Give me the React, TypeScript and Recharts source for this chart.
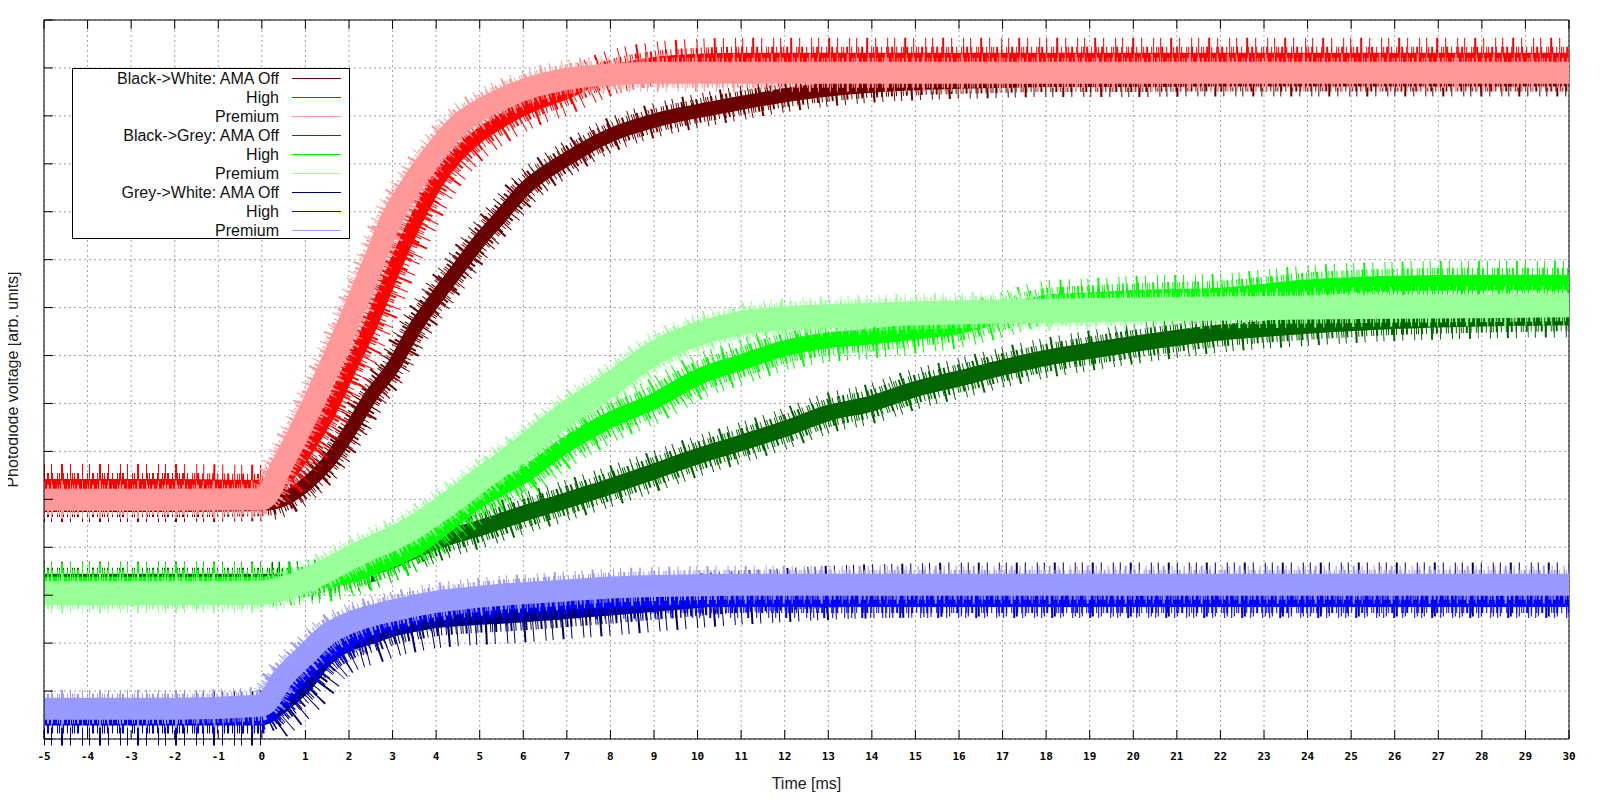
import React from "react";
import { LineChart, Line, XAxis, YAxis, CartesianGrid, Legend, ReferenceLine, Label } from "recharts";

// time axis in ms, values in arbitrary photodiode units (0..15 grid steps)
const timeMs = [-5, -2, 0, 0.5, 1, 1.5, 2, 2.5, 3, 3.5, 4, 4.5, 5, 5.5, 6, 7, 8, 9, 10, 11, 12, 13, 14, 15, 16, 17, 18, 19, 20, 22, 24, 26, 28, 30];

const bwOff = [4.88, 4.88, 4.9, 5.0, 5.3, 5.75, 6.4, 7.15, 7.75, 8.55, 9.2, 9.8, 10.4, 10.92, 11.45, 12.1, 12.6, 12.9, 13.1, 13.27, 13.43, 13.55, 13.63, 13.68, 13.71, 13.73, 13.75, 13.75, 13.75, 13.76, 13.76, 13.76, 13.76, 13.76];
const bwHigh = [5.28, 5.28, 5.26, 5.42, 6.0, 6.75, 7.7, 8.65, 9.75, 10.75, 11.6, 12.2, 12.6, 12.9, 13.15, 13.5, 13.9, 14.08, 14.15, 14.17, 14.17, 14.17, 14.17, 14.17, 14.17, 14.17, 14.17, 14.17, 14.17, 14.17, 14.17, 14.17, 14.17, 14.17];
const bwPremium = [4.99, 4.99, 5.0, 5.78, 6.67, 7.66, 8.7, 9.8, 10.9, 11.65, 12.27, 12.8, 13.12, 13.35, 13.54, 13.77, 13.86, 13.9, 13.9, 13.9, 13.9, 13.9, 13.9, 13.9, 13.9, 13.9, 13.9, 13.9, 13.9, 13.9, 13.9, 13.9, 13.9, 13.9];

const bgOff = [3.28, 3.28, 3.28, 3.28, 3.3, 3.36, 3.45, 3.57, 3.73, 3.93, 4.12, 4.27, 4.4, 4.55, 4.7, 4.98, 5.27, 5.58, 5.9, 6.18, 6.47, 6.8, 7.0, 7.3, 7.52, 7.75, 7.95, 8.1, 8.24, 8.48, 8.62, 8.72, 8.77, 8.8];
const bgHigh = [3.22, 3.22, 3.22, 3.24, 3.27, 3.32, 3.42, 3.57, 3.75, 3.97, 4.3, 4.66, 5.0, 5.25, 5.5, 6.15, 6.66, 7.05, 7.55, 7.86, 8.15, 8.32, 8.4, 8.5, 8.62, 8.85, 9.1, 9.15, 9.2, 9.25, 9.42, 9.5, 9.52, 9.52];
const bgPremium = [3.04, 3.04, 3.05, 3.15, 3.3, 3.52, 3.76, 3.98, 4.18, 4.42, 4.73, 5.05, 5.4, 5.73, 6.07, 6.8, 7.4, 8.05, 8.45, 8.68, 8.78, 8.82, 8.85, 8.88, 8.9, 8.92, 8.93, 8.95, 8.96, 8.98, 9.0, 9.02, 9.03, 9.05];

const gwOff = [0.43, 0.43, 0.43, 0.72, 1.12, 1.68, 1.98, 2.12, 2.28, 2.38, 2.46, 2.5, 2.53, 2.55, 2.58, 2.65, 2.72, 2.8, 2.88, 2.95, 3.0, 3.05, 3.08, 3.1, 3.12, 3.12, 3.12, 3.12, 3.12, 3.12, 3.12, 3.12, 3.12, 3.12];
const gwHigh = [0.45, 0.45, 0.46, 0.9, 1.4, 1.78, 2.05, 2.3, 2.45, 2.57, 2.66, 2.72, 2.76, 2.8, 2.82, 2.86, 2.88, 2.89, 2.9, 2.9, 2.9, 2.9, 2.9, 2.9, 2.9, 2.9, 2.9, 2.9, 2.9, 2.9, 2.9, 2.9, 2.9, 2.9];
const gwPremium = [0.63, 0.63, 0.7, 1.3, 1.75, 2.18, 2.42, 2.57, 2.68, 2.78, 2.86, 2.92, 2.97, 3.01, 3.04, 3.1, 3.16, 3.19, 3.21, 3.22, 3.22, 3.22, 3.22, 3.22, 3.22, 3.22, 3.22, 3.22, 3.22, 3.22, 3.22, 3.22, 3.22, 3.22];

const xTicks = [-5, -4, -3, -2, -1, 0, 1, 2, 3, 4, 5, 6, 7, 8, 9, 10, 11, 12, 13, 14, 15, 16, 17, 18, 19, 20, 21, 22, 23, 24, 25, 26, 27, 28, 29, 30];
const yTicks = [0, 1, 2, 3, 4, 5, 6, 7, 8, 9, 10, 11, 12, 13, 14, 15];

// drawing order = gnuplot plot order; core = solid band, mid/far = noise spikes
const series = [
  { key: "bwOff", label: "Black->White: AMA Off", values: bwOff, color: "#6b0000", core: 14, mid: 24, far: 34 },
  { key: "bwHigh", label: "High", values: bwHigh, color: "#ff0000", core: 14, mid: 26, far: 44 },
  { key: "bwPremium", label: "Premium", values: bwPremium, color: "#ff9999", core: 22, mid: 30, far: 38 },
  { key: "bgOff", label: "Black->Grey: AMA Off", values: bgOff, color: "#006400", core: 16, mid: 28, far: 40 },
  { key: "bgHigh", label: "High", values: bgHigh, color: "#00ff00", core: 16, mid: 30, far: 44 },
  { key: "bgPremium", label: "Premium", values: bgPremium, color: "#99ff99", core: 24, mid: 32, far: 40 },
  { key: "gwOff", label: "Grey->White: AMA Off", values: gwOff, color: "#00006b", core: 14, mid: 30, far: 54 },
  { key: "gwHigh", label: "High", values: gwHigh, color: "#0000ff", core: 14, mid: 26, far: 36 },
  { key: "gwPremium", label: "Premium", values: gwPremium, color: "#9999ff", core: 22, mid: 30, far: 38 },
];

const data = timeMs.map((t, i) => {
  const row: Record<string, number> = { t };
  series.forEach((s) => {
    row[s.key] = s.values[i];
  });
  return row;
});

const font = "'Liberation Sans', Arial, sans-serif";
const noLabel = () => "";

const LegendBox = () => (
  <div
    style={{
      width: 278,
      height: 171,
      boxSizing: "border-box",
      border: "1px solid #000",
      background: "#fff",
      fontFamily: font,
      fontSize: 16,
      color: "#111",
    }}
  >
    {series.map((s) => (
      <div key={s.key} style={{ display: "flex", alignItems: "center", height: 19 }}>
        <span style={{ width: 206, textAlign: "right", whiteSpace: "nowrap" }}>{s.label}</span>
        <span style={{ marginLeft: 13, width: 49, borderTop: `1.5px solid ${s.color}` }} />
      </div>
    ))}
  </div>
);

const YLabel = (props: any) => {
  const vb = props.viewBox || { x: 0, y: 20, width: 44, height: 719 };
  const cx = 12;
  const cy = vb.y + vb.height / 2;
  return (
    <text
      x={cx}
      y={cy}
      transform={`rotate(-90 ${cx} ${cy})`}
      textAnchor="middle"
      dominantBaseline="central"
      fontFamily={font}
      fontSize={16}
      fill="#222"
    >
      Photodiode voltage [arb. units]
    </text>
  );
};

const App: React.FC = () => {
  return (
    <div style={{ margin: -8, width: 1600, height: 800 }}>
      <LineChart width={1600} height={800} data={data} margin={{ top: 0, right: 31, bottom: 0, left: 0 }}>
        <CartesianGrid stroke="#a0a0a0" strokeDasharray="2 3" />
        <XAxis
          dataKey="t"
          type="number"
          domain={[-5, 30]}
          ticks={xTicks}
          interval={0}
          height={61}
          tickSize={-9}
          tickMargin={22}
          axisLine={{ stroke: "#000" }}
          tickLine={{ stroke: "#000" }}
          tick={{ fontFamily: "'DejaVu Sans Mono', monospace", fontSize: 11, fontWeight: 700, fill: "#000" }}
        >
          <Label value="Time [ms]" position="insideBottom" offset={11} style={{ fontFamily: font, fontSize: 16, fill: "#222" }} />
        </XAxis>
        <XAxis
          xAxisId="top"
          orientation="top"
          dataKey="t"
          type="number"
          domain={[-5, 30]}
          ticks={xTicks}
          interval={0}
          height={20}
          tickSize={-9}
          tickFormatter={noLabel}
          axisLine={{ stroke: "#000" }}
          tickLine={{ stroke: "#000" }}
        />
        <YAxis
          type="number"
          domain={[0, 15]}
          ticks={yTicks}
          interval={0}
          width={44}
          tickSize={-9}
          tickFormatter={noLabel}
          axisLine={{ stroke: "#000" }}
          tickLine={{ stroke: "#000" }}
        >
          <Label content={YLabel} />
        </YAxis>
        <ReferenceLine x={30} stroke="#000" />
        {series.map((s) => [
          <Line
            key={s.key + "-far"}
            dataKey={s.key}
            type="monotone"
            stroke={s.color}
            strokeWidth={s.far}
            strokeDasharray="1 6 1 9 2 7 1 11"
            strokeLinecap="butt"
            dot={false}
            activeDot={false}
            legendType="none"
            isAnimationActive={false}
          />,
          <Line
            key={s.key + "-mid"}
            dataKey={s.key}
            type="monotone"
            stroke={s.color}
            strokeWidth={s.mid}
            strokeDasharray="1 2 2 3 1 4 1 1"
            strokeLinecap="butt"
            dot={false}
            activeDot={false}
            legendType="none"
            isAnimationActive={false}
          />,
          <Line
            key={s.key + "-core"}
            dataKey={s.key}
            name={s.label}
            type="monotone"
            stroke={s.color}
            strokeWidth={s.core}
            strokeLinecap="butt"
            dot={false}
            activeDot={false}
            isAnimationActive={false}
          />,
        ])}
        <Legend
          content={LegendBox}
          layout="horizontal"
          verticalAlign="middle"
          align="center"
          wrapperStyle={{ left: 72, top: 68, width: 278, height: 171 }}
        />
      </LineChart>
    </div>
  );
};

export default App;
